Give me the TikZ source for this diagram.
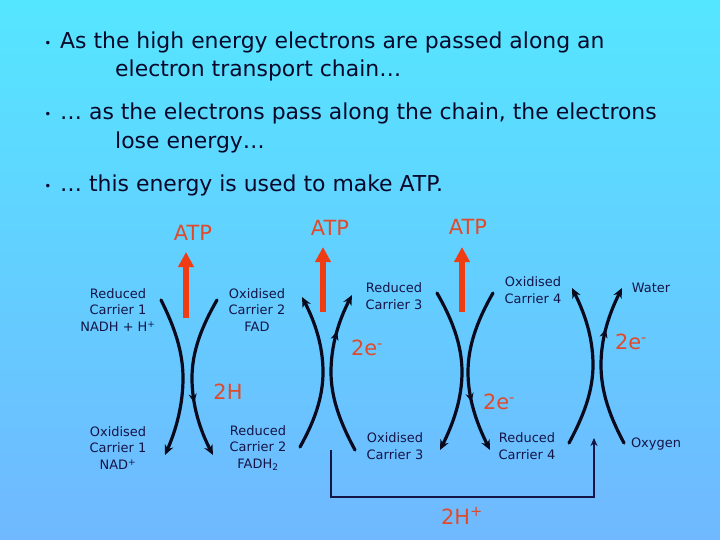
\documentclass[tikz,border=0pt]{standalone}
\usepackage{fontspec}
\setmainfont{DejaVu Sans}
\usetikzlibrary{arrows.meta,decorations.markings}
\definecolor{bgtop}{HTML}{55E6FF}
\definecolor{bgbot}{HTML}{70B8FF}
\definecolor{bodytext}{HTML}{08082A}
\definecolor{labeltext}{HTML}{141446}
\definecolor{orangetext}{HTML}{E04A2A}
\definecolor{orangearrow}{HTML}{F03C12}
\definecolor{arcdark}{HTML}{0A0A1E}
\tikzset{
  bullettext/.style={anchor=base west,inner sep=0pt,text=bodytext,font=\fontsize{22}{26}\selectfont},
  bulletdot/.style={anchor=base,inner sep=0pt,text=bodytext,font=\fontsize{12}{14}\selectfont},
  carrier/.style={align=center,inner sep=0pt,text=labeltext,font=\fontsize{13}{16.5}\selectfont},
  energy/.style={inner sep=0pt,text=orangetext,font=\fontsize{21}{25}\selectfont},
  atparrow/.style={draw=orangearrow,line width=6bp,-{Triangle[length=15bp,width=15bp]}},
  arcline/.style={draw=arcdark,line width=3.2bp,line cap=round},
  arctip/.style={-{Stealth[length=10bp,width=9bp]}},
  midtip/.style={postaction={decorate},decoration={markings,mark=at position #1 with {\arrow{Stealth[length=9bp,width=8bp]}}}},
  hline/.style={draw=labeltext,line width=1.4bp,-{Stealth[length=8bp,width=7bp]}}
}
\begin{document}
\begin{tikzpicture}[x=1bp,y=-1bp]
\useasboundingbox (0,0) rectangle (720,540);
\fill[top color=bgtop,bottom color=bgbot] (0,0) rectangle (720,540);

% bullet text
\node[bulletdot] (b1) at (48,48) {•};
\node[bullettext] (t1a) at (60,49) {As the high energy electrons are passed along an};
\node[bullettext] (t1b) at (115,77) {electron transport chain…};
\node[bulletdot] (b2) at (48,119) {•};
\node[bullettext] (t2a) at (60,120) {… as the electrons pass along the chain, the electrons};
\node[bullettext] (t2b) at (115,149) {lose energy…};
\node[bulletdot] (b3) at (48,191) {•};
\node[bullettext] (t3) at (60,192) {… this energy is used to make ATP.};

% ATP labels and arrows
\node[energy] (atp1) at (193,233) {ATP};
\node[energy] (atp2) at (330,228) {ATP};
\node[energy] (atp3) at (468,227) {ATP};
\coordinate (a1s) at (186,318); \coordinate (a1t) at (186,252);
\coordinate (a2s) at (323,312); \coordinate (a2t) at (323,247);
\coordinate (a3s) at (462,312); \coordinate (a3t) at (462,247);
\draw[atparrow] (a1s) -- (a1t);
\draw[atparrow] (a2s) -- (a2t);
\draw[atparrow] (a3s) -- (a3t);

% carriers
\node[carrier] (rc1) at (118,310) {Reduced\\Carrier 1\\NADH + H\textsuperscript{+}};
\node[carrier] (oc2) at (257,310) {Oxidised\\Carrier 2\\FAD};
\node[carrier] (rc3) at (394,296) {Reduced\\Carrier 3};
\node[carrier] (oc4) at (533,290) {Oxidised\\Carrier 4};
\node[carrier] (water) at (651,288) {Water};
\node[carrier] (oc1) at (118,448) {Oxidised\\Carrier 1\\NAD\textsuperscript{+}};
\node[carrier] (rc2) at (258,448) {Reduced\\Carrier 2\\FADH\textsubscript{2}};
\node[carrier] (oc3) at (395,446) {Oxidised\\Carrier 3};
\node[carrier] (rc4) at (527,446) {Reduced\\Carrier 4};
\node[carrier] (oxy) at (656,444) {Oxygen};

% energy labels
\node[energy] (e2a) at (367,348) {2e\textsuperscript{-}};
\node[energy] (e2b) at (499,402) {2e\textsuperscript{-}};
\node[energy] (e2c) at (631,342) {2e\textsuperscript{-}};
\node[energy] (h2) at (228,392) {2H};
\node[energy] (h2p) at (462,516) {2H\textsuperscript{+}};

% pair 1 (downwards)
\coordinate (p1Lt) at (161,300); \coordinate (p1Lm) at (183,378); \coordinate (p1Lb) at (165,455);
\coordinate (p1Rt) at (217,300); \coordinate (p1Rm) at (192,378); \coordinate (p1Rb) at (213,455);
\draw[arcline,arctip] (p1Lt) .. controls (174,326) and (183,351) .. (p1Lm) .. controls (183,405) and (176,430) .. (p1Lb);
\draw[arcline,arctip,midtip=0.66] (p1Rt) .. controls (202,326) and (192,351) .. (p1Rm) .. controls (192,405) and (200,430) .. (p1Rb);

% pair 2 (upwards)
\coordinate (p2Lb) at (300,447); \coordinate (p2Lm) at (323,372); \coordinate (p2Lt) at (302,297);
\coordinate (p2Rb) at (355,450); \coordinate (p2Rm) at (331,372); \coordinate (p2Rt) at (352,295);
\draw[arcline,arctip] (p2Lb) .. controls (314,422) and (323,398) .. (p2Lm) .. controls (323,346) and (315,322) .. (p2Lt);
\draw[arcline,arctip,midtip=0.76] (p2Rb) .. controls (341,424) and (331,399) .. (p2Rm) .. controls (331,345) and (339,320) .. (p2Rt);

% pair 3 (downwards)
\coordinate (p3Lt) at (437,293); \coordinate (p3Lm) at (462,372); \coordinate (p3Lb) at (440,450);
\coordinate (p3Rt) at (493,293); \coordinate (p3Rm) at (468,372); \coordinate (p3Rb) at (490,450);
\draw[arcline,arctip] (p3Lt) .. controls (452,319) and (462,345) .. (p3Lm) .. controls (462,399) and (453,424) .. (p3Lb);
\draw[arcline,arctip,midtip=0.69] (p3Rt) .. controls (478,319) and (468,345) .. (p3Rm) .. controls (468,399) and (477,424) .. (p3Rb);

% pair 4 (upwards)
\coordinate (p4Lb) at (569,443); \coordinate (p4Lm) at (593,365); \coordinate (p4Lt) at (572,288);
\coordinate (p4Rb) at (624,443); \coordinate (p4Rm) at (601,365); \coordinate (p4Rt) at (622,288);
\draw[arcline,arctip] (p4Lb) .. controls (583,417) and (593,392) .. (p4Lm) .. controls (593,338) and (585,314) .. (p4Lt);
\draw[arcline,arctip,midtip=0.73] (p4Rb) .. controls (610,417) and (601,392) .. (p4Rm) .. controls (601,338) and (609,314) .. (p4Rt);

% proton path
\coordinate (hs) at (331,450);
\coordinate (he) at (594,438);
\draw[hline] (hs) -- ++(0,47) -| (he);
\end{tikzpicture}
\end{document}
